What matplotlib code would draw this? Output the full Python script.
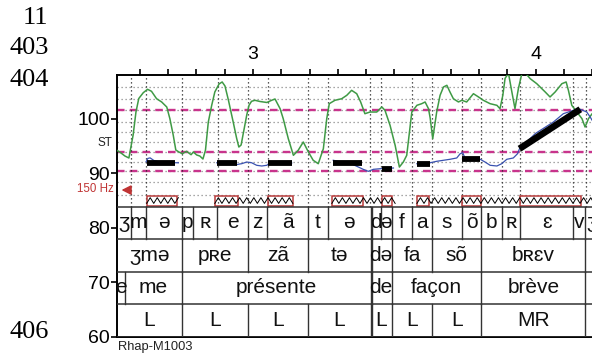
import numpy as np
import matplotlib
matplotlib.use('Agg')
import matplotlib.pyplot as plt
from matplotlib.patches import Rectangle

# ---------------- data (time in s, pitch in semitones) ----------------
green_t = [2.520, 2.533, 2.547, 2.561, 2.576, 2.586, 2.596, 2.612, 2.627, 2.641, 2.659, 2.677,
           2.695, 2.706, 2.718, 2.727, 2.738, 2.750, 2.765, 2.781, 2.789, 2.801, 2.812, 2.823,
           2.832, 2.842, 2.854, 2.865, 2.880, 2.891, 2.901, 2.913, 2.930, 2.942, 2.950, 2.958,
           2.966, 2.978, 2.986, 2.995, 3.007, 3.025, 3.049, 3.066, 3.078, 3.096, 3.107, 3.125,
           3.143, 3.160, 3.178, 3.196, 3.213, 3.231, 3.249, 3.261, 3.270, 3.290, 3.314, 3.332,
           3.349, 3.367, 3.381, 3.396, 3.414, 3.438, 3.456, 3.467, 3.485, 3.503, 3.518, 3.532,
           3.544, 3.562, 3.580, 3.597, 3.609, 3.621, 3.627, 3.636, 3.650, 3.662, 3.674, 3.686,
           3.697, 3.709, 3.727, 3.739, 3.756, 3.780, 3.798, 3.815, 3.839, 3.863, 3.874, 3.884,
           3.892, 3.904, 3.916, 3.927, 3.939, 3.951, 3.963, 3.981, 4.004, 4.034, 4.051, 4.069,
           4.093, 4.108, 4.116, 4.128, 4.146, 4.164, 4.175, 4.187, 4.200, 4.220]
green_st = [94.15, 93.70, 93.14, 92.78, 96.99, 101.21, 103.69, 104.76, 105.38, 105.01, 103.65, 103.05,
            102.13, 99.99, 96.94, 94.24, 93.88, 93.56, 94.00, 93.38, 93.88, 93.33, 93.14, 92.59,
            94.24, 99.38, 102.44, 104.88, 106.35, 106.72, 105.98, 103.42, 99.38, 96.44, 94.79, 95.16,
            97.36, 100.66, 102.44, 103.18, 103.36, 103.14, 102.96, 103.36, 103.60, 101.82, 99.99, 96.32,
            93.27, 94.19, 95.71, 93.88, 92.36, 91.73, 94.48, 99.99, 102.74, 103.36, 103.65, 104.28,
            105.19, 104.57, 103.05, 100.90, 101.21, 101.21, 102.13, 101.53, 98.77, 95.11, 91.12, 92.04,
            93.27, 101.21, 102.44, 102.74, 103.05, 101.82, 100.10, 96.32, 101.21, 104.28, 105.80, 106.11,
            104.88, 103.65, 103.05, 103.36, 103.05, 104.57, 103.97, 103.36, 102.74, 102.44, 101.82, 104.28,
            107.40, 108.30, 104.88, 101.82, 105.49, 108.20, 108.40, 107.32, 106.41, 104.88, 103.97, 104.88,
            106.41, 106.72, 105.19, 102.44, 101.21, 99.99, 98.46, 99.99, 100.90, 101.50]

blue_a_t = [2.622, 2.628, 2.636, 2.650, 2.680, 2.736]
blue_a_st = [92.10, 92.70, 92.80, 92.30, 91.95, 91.90]
blue_b_t = [2.872, 2.942, 2.950, 2.960, 2.978, 2.995, 3.013, 3.031, 3.049, 3.060, 3.137]
blue_b_st = [91.90, 91.55, 91.65, 91.73, 92.04, 91.91, 91.44, 91.31, 91.44, 91.86, 91.86]
blue_c_t = [3.284, 3.302, 3.340, 3.373, 3.390, 3.408, 3.426, 3.450, 3.497]
blue_c_st = [92.36, 92.17, 91.90, 91.12, 90.70, 90.33, 90.70, 90.81, 90.94]
blue_d_t = [3.580, 3.627, 3.650, 3.674, 3.697, 3.721, 3.733, 3.742, 3.750, 3.804, 3.821, 3.839,
            3.863, 3.880, 3.898, 3.921, 3.936, 3.943, 4.000, 4.063, 4.098, 4.134, 4.158, 4.181,
            4.193, 4.200, 4.220]
blue_d_st = [91.73, 91.91, 92.17, 92.36, 92.54, 92.78, 93.56, 93.75, 92.78, 92.54, 92.04, 91.44,
             91.31, 91.73, 92.54, 92.78, 93.56, 94.48, 97.30, 99.38, 100.90, 101.53, 101.71, 101.21,
             100.30, 99.69, 98.50]

styl_t0 = [2.624, 2.872, 3.054, 3.284, 3.456, 3.580, 3.739, 3.943]
styl_t1 = [2.724, 2.942, 3.137, 3.385, 3.491, 3.627, 3.804, 4.158]
styl_st0 = [91.91, 91.91, 91.86, 91.86, 90.81, 91.73, 92.54, 94.48]
styl_st1 = [91.91, 91.91, 91.86, 91.86, 90.81, 91.73, 92.54, 101.71]

nuc_t0 = [2.624, 2.865, 3.054, 3.279, 3.456, 3.580, 3.739, 3.943]
nuc_t1 = [2.730, 2.946, 3.141, 3.388, 3.491, 3.624, 3.807, 4.160]
zig_t0 = [2.624, 2.865, 3.279, 3.580]
zig_t1 = [2.736, 3.141, 3.503, 4.220]

boundary_t = [2.568, 2.620, 2.748, 2.875, 2.983, 3.054, 3.196, 3.264, 3.414, 3.452,
              3.562, 3.635, 3.739, 3.807, 3.882, 3.945, 4.134, 4.178]
grid_st = [86.0, 88.45, 90.4, 92.1, 93.95, 95.8, 97.6, 99.45, 101.6, 103.6, 105.85]
range_st = [101.6, 93.9, 90.4]

phone_edges = [2.520, 2.568, 2.620, 2.748, 2.787, 2.874, 2.983, 3.050, 3.196, 3.264, 3.416,
               3.452, 3.491, 3.562, 3.634, 3.739, 3.808, 3.882, 3.944, 4.134, 4.176, 4.220]
phone_labels = ['ʒ', 'm', 'ə', 'p', 'ʀ', 'e', 'z', 'ã', 't', 'ə', 'd', 'ə', 'f', 'a', 's',
                'õ', 'b', 'ʀ', 'ɛ', 'v', 'ʒ']
syl_edges = [2.520, 2.748, 2.983, 3.196, 3.416, 3.491, 3.634, 3.808, 4.176, 4.220]
syl_labels = ['ʒmə', 'pʀe', 'zã', 'tə', 'də', 'fa', 'sõ', 'bʀɛv', '']
word_edges = [2.520, 2.549, 2.748, 3.416, 3.491, 3.808, 4.176, 4.220]
word_labels = ['e', 'me', 'présente', 'de', 'façon', 'brève', '']
tone_edges = [2.520, 2.748, 2.983, 3.196, 3.416, 3.491, 3.634, 3.808, 4.176, 4.220]
tone_labels = ['L', 'L', 'L', 'L', 'L', 'L', 'L', 'MR', '']
extra_edge_t = [3.422]

time_ticks = [2.6, 2.7, 2.8, 2.9, 3.0, 3.1, 3.2, 3.3, 3.4, 3.5, 3.6, 3.7, 3.8, 3.9, 4.0, 4.1, 4.2]
time_tick_labels = ['', '', '', '', '3', '', '', '', '', '', '', '', '', '', '4', '', '']
st_ticks = [60, 70, 80, 90, 100]
hz150_st = 86.9
line_numbers = ['11', '403', '404', '406']

# ---------------- drawing ----------------
W, H = 592, 354
fig = plt.figure(figsize=(W / 100, H / 100), dpi=100)
fig.patch.set_facecolor('white')
plt.rcParams['font.family'] = ['Liberation Sans', 'DejaVu Sans']

ax_l, ax_r, ax_t, ax_b = 117.3, 597.8, 75.0, 336.7
ax = fig.add_axes([ax_l / W, 1 - ax_b / H, (ax_r - ax_l) / W, (ax_b - ax_t) / H])
xmin, xmax = 2.520, 4.220
ymin, ymax = 60.0, 108.0
ax.set_xlim(xmin, xmax)
ax.set_ylim(ymin, ymax)

tier_edges = [83.85, 77.9, 71.95, 66.0, 60.0]
plot_bottom = tier_edges[0]

# grid + range lines
for g in grid_st:
    ax.plot([xmin, xmax], [g, g], color='#8a8a8a', lw=0.9, ls=(0, (1, 2.2)), zorder=1)
for r in range_st:
    ax.plot([xmin, xmax], [r, r], color='#c8348c', lw=1.7, ls=(0, (3.2, 2.2)), zorder=2)
for b in boundary_t:
    ax.plot([b, b], [plot_bottom, ymax], color='#222222', lw=0.9, ls=(0, (1, 2.2)), zorder=2)

# intensity (green), F0 (blue), stylization (black)
ax.plot(green_t, green_st, color='#3f9a45', lw=1.1, zorder=3, clip_on=True,
        solid_joinstyle='round')
for bt, bs in [(blue_a_t, blue_a_st), (blue_b_t, blue_b_st), (blue_c_t, blue_c_st), (blue_d_t, blue_d_st)]:
    ax.plot(bt, bs, color='#3a52b0', lw=0.9, zorder=4)
for t0, t1, s0, s1 in zip(styl_t0, styl_t1, styl_st0, styl_st1):
    lw = 4.2 if s0 == s1 else 4.8
    ax.plot([t0, t1], [s0, s1], color='black', lw=lw, solid_capstyle='butt', zorder=5)

# nucleus boxes + zigzag
box_lo, box_hi = 84.0, 85.85
zig_lo, zig_hi = 84.45, 85.5
for t0, t1 in zip(nuc_t0, nuc_t1):
    ax.add_patch(Rectangle((t0, box_lo), t1 - t0, box_hi - box_lo, fill=False,
                           edgecolor='#b83a3a', lw=1.1, zorder=6))
period = 0.025
for t0, t1 in zip(zig_t0, zig_t1):
    n = max(2, int(round((t1 - t0) / (period / 2))))
    zt = np.linspace(t0, t1, n + 1)
    zy = [zig_lo if i % 2 == 0 else zig_hi for i in range(n + 1)]
    ax.plot(zt, zy, color='black', lw=0.7, zorder=6)

# tiers
for e in tier_edges:
    ax.plot([xmin, xmax], [e, e], color='#333333', lw=1.1, zorder=6)
rows = [(phone_edges, phone_labels), (syl_edges, syl_labels), (word_edges, word_labels), (tone_edges, tone_labels)]
for i, (edges, labels) in enumerate(rows):
    top, bot = tier_edges[i], tier_edges[i + 1]
    mid = (top + bot) / 2
    for e in edges[1:-1]:
        ax.plot([e, e], [bot, top], color='#333333', lw=1.0, zorder=6)
    for e in extra_edge_t:
        ax.plot([e, e], [bot, top], color='#333333', lw=1.0, zorder=6)
    for a, b, lab in zip(edges[:-1], edges[1:], labels):
        if lab:
            ax.text((max(a, xmin) + min(b, xmax)) / 2, mid, lab, ha='center', va='center',
                    fontsize=15, color='#111111', zorder=7, clip_on=True)

# axes styling
for s in ['left', 'top', 'bottom']:
    ax.spines[s].set_linewidth(1.4)
ax.spines['right'].set_visible(False)
ax.xaxis.set_ticks_position('top')
ax.set_xticks(time_ticks)
ax.set_xticklabels(time_tick_labels, fontsize=14)
ax.tick_params(axis='x', direction='out', length=4.5, width=1.2, pad=4)
ax.set_yticks(st_ticks)
ax.set_yticklabels([str(v) for v in st_ticks], fontsize=14)
ax.tick_params(axis='y', direction='out', length=4, width=1.2, pad=1.5)

# 150 Hz marker
red = '#c03434'
ax.annotate('', xy=(2.525, hz150_st), xytext=(2.573, hz150_st),
            arrowprops=dict(arrowstyle='-|>,head_length=0.55,head_width=0.28', color=red, lw=1.2),
            annotation_clip=False, zorder=8)
fig.text(113.5 / W, 1 - 189.5 / H, '150 Hz', color=red, fontsize=8.3, ha='right', va='center')
fig.text(104.5 / W, 1 - 143.5 / H, 'ST', color='#222222', fontsize=8.5, ha='center', va='center')
fig.text(118.0 / W, 1 - 347.0 / H, 'Rhap-M1003', color='#222222', fontsize=9.3, ha='left', va='center')

# line numbers of the source page
for txt, y in zip(line_numbers, [18.5, 48.5, 80.5, 331.5]):
    fig.text(48.5 / W, 1 - y / H, txt, fontsize=19, family='Liberation Serif', ha='right', va='center')

fig.savefig('out.png', dpi=100)
